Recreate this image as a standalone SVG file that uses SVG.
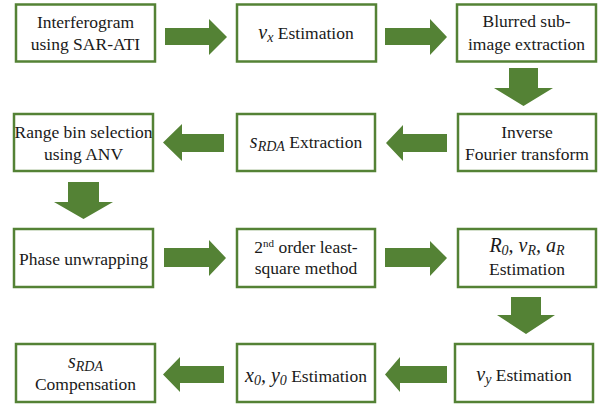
<svg xmlns="http://www.w3.org/2000/svg" width="600" height="406" viewBox="0 0 600 406">
<style>
.box{fill:#fff;stroke:#548235;stroke-width:2.5}
.arr{fill:#548235}
.m{font-style:italic;font-size:20px}
.sub{font-style:italic;font-size:14px}
.sup{font-size:11px}
</style>
<rect width="600" height="406" fill="#fff"/>
<g id="connectors">
<polygon class="arr" points="165,28 209,28 209,19 227,37 209,55 209,45 165,45"/>
<polygon class="arr" points="385,28 430,28 430,19 447,37 430,55 430,45 385,45"/>
<polygon class="arr" points="509,68 538,68 538,88 553,88 523.5,106 494,88 509,88"/>
<polygon class="arr" points="224,134 182,134 182,124 163,142.5 182,161 182,152 224,152"/>
<polygon class="arr" points="447,134 403,134 403,125 386,143 403,161 403,152 447,152"/>
<polygon class="arr" points="68,182 99,182 99,202 113,202 83.5,219 54,202 68,202"/>
<polygon class="arr" points="164,248 209,248 209,240 226,258 209,276 209,267 164,267"/>
<polygon class="arr" points="385,248 430,248 430,241 447,258 430,276 430,267 385,267"/>
<polygon class="arr" points="511,297 541,297 541,315 555,315 526,334 497,315 511,315"/>
<polygon class="arr" points="224,366 180,366 180,357 163,374.5 180,392 180,383 224,383"/>
<polygon class="arr" points="447,366 400,366 400,357 385,374.5 400,392 400,383 447,383"/>
</g>
<g fill="#1a1a1a" text-anchor="middle">
<g id="n1"><rect class="box" x="16" y="4.5" width="139" height="57"/><text font-family="Liberation Serif" font-size="17.5" x="85.5" y="28">Interferogram</text><text font-family="Liberation Serif" font-size="17.5" x="85.5" y="50">using SAR-ATI</text></g>
<g id="n2"><rect class="box" x="237" y="4.5" width="139" height="57"/><text font-family="Liberation Serif" font-size="17.5" x="306" y="39"><tspan class="m">v</tspan><tspan class="sub" dy="3">x</tspan><tspan dy="-3">  Estimation</tspan></text></g>
<g id="n3"><rect class="box" x="457" y="4.5" width="139" height="57"/><text font-family="Liberation Serif" font-size="17.5" x="526.5" y="27">Blurred sub-</text><text font-family="Liberation Serif" font-size="17.5" x="526.5" y="50">image extraction</text></g>
<g id="n4"><rect class="box" x="14" y="114" width="139" height="57"/><text font-family="Liberation Serif" font-size="17.5" x="83.5" y="138">Range bin selection</text><text font-family="Liberation Serif" font-size="17.5" x="83.5" y="160">using ANV</text></g>
<g id="n5"><rect class="box" x="237" y="114" width="138" height="57"/><text font-family="Liberation Serif" font-size="17.5" x="306" y="148"><tspan class="m">s</tspan><tspan class="sub" dy="3">RDA</tspan><tspan dy="-3"> Extraction</tspan></text></g>
<g id="n6"><rect class="box" x="458" y="114" width="138" height="57"/><text font-family="Liberation Serif" font-size="17.5" x="527" y="138">Inverse</text><text font-family="Liberation Serif" font-size="17.5" x="527" y="160">Fourier transform</text></g>
<g id="n7"><rect class="box" x="14" y="229" width="139" height="58"/><text font-family="Liberation Serif" font-size="17.5" x="83.5" y="265">Phase unwrapping</text></g>
<g id="n8"><rect class="box" x="237" y="229" width="138" height="58"/><text font-family="Liberation Serif" font-size="17.5" x="306" y="253">2<tspan class="sup" dy="-6">nd</tspan><tspan dy="6"> order least-</tspan></text><text font-family="Liberation Serif" font-size="17.5" x="306" y="274">square method</text></g>
<g id="n9"><rect class="box" x="458" y="229" width="138" height="58"/><text font-family="Liberation Serif" font-size="17.5" x="527" y="252"><tspan class="m">R</tspan><tspan class="sub" dy="3">0</tspan><tspan class="m" dy="-3">, v</tspan><tspan class="sub" dy="3">R</tspan><tspan class="m" dy="-3">, a</tspan><tspan class="sub" dy="3">R</tspan></text><text font-family="Liberation Serif" font-size="17.5" x="527" y="275">Estimation</text></g>
<g id="n10"><rect class="box" x="16" y="344" width="139" height="58"/><text font-family="Liberation Serif" font-size="17.5" x="85.5" y="368"><tspan class="m">s</tspan><tspan class="sub" dy="3">RDA</tspan></text><text font-family="Liberation Serif" font-size="17.5" x="85.5" y="390">Compensation</text></g>
<g id="n11"><rect class="box" x="237" y="344" width="138" height="58"/><text font-family="Liberation Serif" font-size="17.5" x="306" y="382"><tspan class="m">x</tspan><tspan class="sub" dy="3">0</tspan><tspan class="m" dy="-3">, y</tspan><tspan class="sub" dy="3">0</tspan><tspan dy="-3"> Estimation</tspan></text></g>
<g id="n12"><rect class="box" x="455" y="344" width="138" height="58"/><text font-family="Liberation Serif" font-size="17.5" x="524" y="381"><tspan class="m">v</tspan><tspan class="sub" dy="3">y</tspan><tspan dy="-3">  Estimation</tspan></text></g>
</g>
</svg>
